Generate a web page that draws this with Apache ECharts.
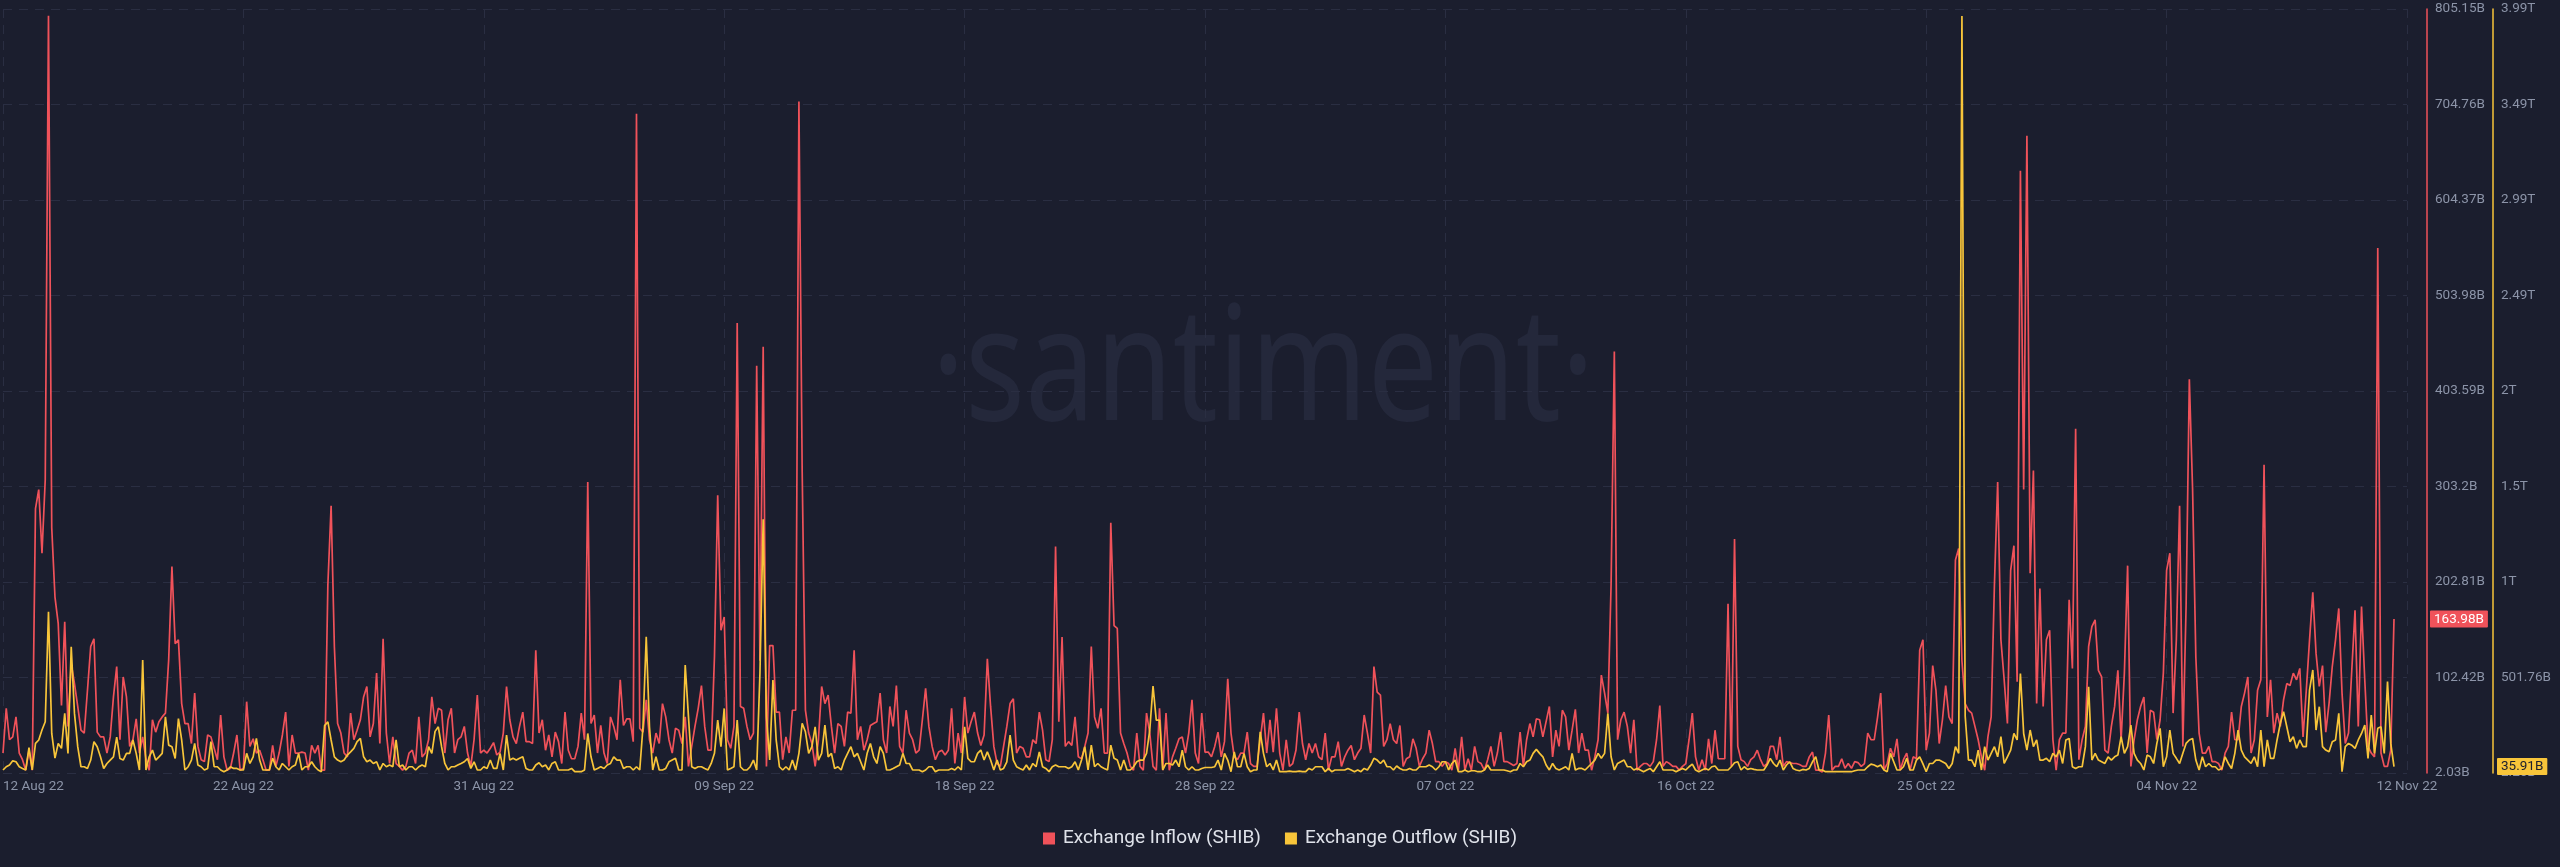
<!DOCTYPE html>
<html><head><meta charset="utf-8">
<script src="https://cdn.jsdelivr.net/npm/echarts@6/dist/echarts.min.js"></script>
<style>html,body{margin:0;padding:0;background:#1b1e2e;}#c{width:2560px;height:867px;}</style>
</head><body><div id="c"></div>
<script>
// ---- data (3-hourly samples) ----
const startTimeUTC = Date.UTC(2022, 7, 12, 22); // first sample
const stepHours = 3;
const seriesNames = ['Exchange Inflow (SHIB)', 'Exchange Outflow (SHIB)'];
const monthNames = ['Jan','Feb','Mar','Apr','May','Jun','Jul','Aug','Sep','Oct','Nov','Dec'];
const inflowTicks = { min: 2.03, max: 805.15, interval: 100.39 };     // B
const outflowTicks = { min: 2.26, max: 3998.26, interval: 499.5 };    // B
const xTickDays = 9.25;   // spacing of date labels
const xTickCount = 10;

// Exchange Inflow (SHIB), billions
const inflow = [
23,70,37,40,61,23,16,5,26,5,
280,300,233,310,798,260,187,159,73,161,
51,117,96,72,47,44,89,135,143,45,
40,40,23,40,82,114,37,103,82,30,
37,59,23,40,17,5,58,45,56,61,
65,121,219,138,142,75,54,54,33,86,
30,16,14,42,40,28,16,63,19,5,
7,23,42,5,7,77,30,38,23,26,
16,5,5,31,9,23,42,66,9,42,
23,23,24,23,5,31,23,31,5,5,
200,283,135,54,44,23,19,65,37,47,
58,82,93,40,54,107,33,143,44,12,
40,12,9,5,9,23,26,12,61,19,
23,37,82,54,70,68,23,58,70,23,
37,40,51,23,9,37,84,23,
26,23,28,34,21,24,44,93,58,40,
33,51,66,35,35,33,131,44,58,26,
42,19,45,35,12,66,26,17,17,30,
65,37,308,54,63,23,52,23,12,61,
51,37,100,52,59,59,35,695,49,45,
79,37,23,44,33,75,61,37,23,49,
47,33,61,9,30,51,70,94,51,26,
26,124,294,152,166,37,28,51,475,72,
70,51,37,44,430,120,450,9,136,136,
66,66,16,40,23,68,68,708,320,68,
44,33,9,37,93,75,84,51,23,54,
51,30,66,65,131,37,51,26,37,52,
54,56,86,37,23,72,51,94,30,23,
68,44,37,23,26,58,91,51,30,16,
24,26,21,26,70,12,44,23,
82,44,56,66,44,31,42,122,72,30,
12,9,30,51,75,80,23,30,28,19,
19,37,33,66,47,16,14,37,240,56,
145,30,35,31,61,19,17,30,44,135,
61,49,70,23,23,265,157,154,44,33,
23,9,5,44,9,5,65,44,9,5,
70,5,65,5,19,28,38,40,23,44,
79,23,12,65,24,24,19,30,45,19,
35,101,44,19,16,23,23,45,12,9,
9,37,65,23,58,24,70,23,5,37,
9,12,26,66,33,16,33,23,33,19,
16,44,5,19,19,35,9,19,26,31,
16,23,28,63,44,23,114,87,84,30,
37,54,37,33,52,9,17,19,38,28,
9,17,23,47,33,14,14,
9,14,12,5,28,5,40,5,17,5,
30,14,12,5,16,30,9,23,45,14,
14,12,10,12,45,9,37,54,40,59,
58,40,56,72,19,47,30,68,61,26,
47,69,23,44,26,26,5,19,37,105,
86,65,200,445,37,58,66,51,23,58,
5,9,12,12,9,14,37,73,9,14,
12,9,9,5,9,12,37,65,19,5,
16,5,38,12,47,17,17,17,180,9,
248,30,16,14,9,16,19,26,16,9,
12,30,30,16,40,9,14,13,12,12,
11,9,9,19,24,5,5,3,23,63,
5,9,9,17,7,12,7,14,13,9,
12,44,37,37,60,86,5,12,28,19,
38,5,16,23,5,19,17,131,
142,26,44,115,89,33,58,94,61,54,
226,238,120,75,68,65,51,37,19,5,
40,61,200,308,142,100,54,215,241,98,
635,300,672,212,320,75,196,72,142,152,
37,5,37,44,44,184,112,364,16,37,
51,135,156,163,110,103,26,23,51,72,
110,37,107,220,9,37,58,72,82,23,
68,66,37,58,107,215,233,65,142,283,
30,177,416,300,124,44,23,23,30,14,
14,12,5,23,30,66,37,37,72,86,
103,23,37,89,100,326,61,100,44,65,
51,79,96,94,107,100,112,40,89,142,
192,128,93,115,45,75,114,142,175,86,
33,44,110,173,51,177,100,30,23,19,
554,23,9,9,26,163.98
];

// Exchange Outflow (SHIB), billions
const outflow = [
18,35,44,66,61,35,26,18,135,18,
157,175,227,270,846,209,80,157,131,314,
105,663,314,140,35,35,26,70,166,140,
87,26,52,70,87,190,78,70,105,105,
175,105,18,593,18,87,122,70,87,105,
296,148,140,78,287,175,18,35,70,157,
44,35,18,26,166,35,35,18,9,18,
35,26,26,18,18,105,52,87,183,70,
18,18,18,80,35,18,52,35,18,35,
44,105,18,35,35,61,35,18,9,250,
270,175,87,70,61,70,96,113,131,166,
183,87,61,70,52,61,18,52,35,44,
35,175,35,44,18,35,35,18,35,44,
35,140,105,220,244,140,52,18,35,35,
44,52,61,78,26,61,18,18,
35,26,70,26,26,105,18,201,70,79,
70,79,87,26,18,18,44,56,35,44,
18,52,61,18,18,18,18,26,9,9,
9,18,209,87,18,26,35,26,44,52,
87,70,70,26,35,35,18,35,18,244,
715,244,18,87,18,18,26,61,70,79,
18,18,567,297,35,26,35,35,26,18,
52,105,279,140,340,18,26,35,279,35,
18,18,35,70,18,523,1330,300,70,488,
175,35,18,35,18,70,18,105,262,218,
105,140,244,70,105,253,87,105,26,35,
18,70,105,140,87,105,61,18,105,157,
87,52,140,105,18,18,26,35,44,105,
52,52,18,18,18,9,18,35,35,9,
18,18,18,18,26,18,35,18,
244,79,61,61,105,122,70,113,70,18,
70,18,26,61,201,70,35,26,18,44,
18,52,35,113,35,26,9,35,44,35,
35,35,26,35,61,18,70,140,18,148,
35,52,35,26,18,148,79,70,18,70,
18,18,35,61,70,70,105,227,457,279,
279,18,52,52,44,70,35,122,35,18,
35,18,18,26,31,31,31,35,70,18,
105,70,9,113,35,35,105,35,9,18,
18,218,105,35,52,18,70,9,9,9,
12,9,9,12,9,9,26,18,35,35,
35,9,26,9,18,18,18,18,26,18,
9,18,9,26,18,44,79,70,52,70,
35,35,18,39,26,18,18,26,18,18,
35,35,35,44,35,18,35,
61,61,18,52,70,9,9,18,9,14,
14,9,9,18,44,18,18,18,18,18,
14,9,18,18,52,35,61,70,105,126,
105,87,44,18,52,26,18,26,35,18,
105,18,26,26,18,35,52,70,105,79,
105,314,87,18,52,61,70,35,35,18,
26,18,9,18,26,9,35,61,18,18,
18,18,9,18,26,18,35,49,18,9,
18,26,18,35,39,18,18,18,18,35,
56,61,18,35,21,26,21,18,18,18,
44,79,52,35,70,18,44,61,26,18,
14,21,18,26,61,87,18,18,9,9,
9,9,9,9,9,9,9,14,18,18,
18,35,49,44,35,44,18,9,105,61,
18,18,35,79,18,18,70,87,
50,9,52,52,70,70,61,52,26,52,
140,105,3961,300,70,70,35,122,18,140,
70,105,140,87,192,52,87,122,209,175,
523,209,122,227,140,175,70,70,79,61,
105,87,122,52,175,183,35,26,35,35,
140,453,70,105,70,61,52,87,70,87,
96,192,105,140,253,105,70,52,18,96,
87,52,157,236,35,87,227,105,79,52,
105,157,175,183,70,18,87,35,52,35,
35,18,26,87,52,26,105,227,122,87,
70,52,87,35,227,35,175,79,79,175,
262,323,244,166,192,131,175,140,140,436,
541,227,349,140,122,113,166,175,314,9,
140,157,148,131,175,209,253,79,305,105,
236,244,105,480,157,35.91
];

// ---- chart ----
const HOUR = 3600 * 1000, DAY = 24 * HOUR;
const times = inflow.map((_, i) => startTimeUTC + i * stepHours * HOUR);
const lastTime = times[times.length - 1];
const xMin = startTimeUTC, xInterval = xTickDays * DAY, xMax = xMin + xTickCount * xInterval;

function fmtDate(v) {
  const d = new Date(Math.min(v, lastTime));
  const dd = String(d.getUTCDate()).padStart(2, '0');
  return dd + ' ' + monthNames[d.getUTCMonth()] + ' ' + String(d.getUTCFullYear()).slice(2);
}
function strip(x) { return String(parseFloat(x.toFixed(2))); }
function fmtVal(v) {
  if (v >= 1000) return strip(Math.floor(v / 1000 * 100 + 1e-6) / 100) + 'T';
  return strip(Math.round(v * 100) / 100) + 'B';
}

const RED = '#f0525a', YEL = '#f8c53a', BG = '#1b1e2e';
const LABEL = '#8c94a8', GRID = '#2a2e42';
const FONT = 'Roboto, "Liberation Sans", sans-serif';

// watermark width fit
const wmFontSize = 160;
const mctx = document.createElement('canvas').getContext('2d');
mctx.font = wmFontSize + 'px "Noto Sans"';
const wmText = '·santiment·';
const wmScale = 663 / mctx.measureText(wmText).width;

const chart = echarts.init(document.getElementById('c'), null, { renderer: 'canvas' });
chart.setOption({
  backgroundColor: BG,
  animation: false,
  graphic: [{
    type: 'text', x: 1263, y: 374, scaleX: wmScale, z: -10, silent: true,
    style: { text: wmText, fill: '#24283b', font: wmFontSize + 'px "Noto Sans"', textAlign: 'center', textVerticalAlign: 'middle' }
  }],
  grid: { left: 0, right: 153, top: 9, bottom: 94, containLabel: false },
  legend: {
    data: seriesNames, top: 824, left: 'center', icon: 'rect', itemWidth: 12, itemHeight: 12, itemGap: 24,
    textStyle: { color: '#dfe2ea', fontSize: 19, fontFamily: FONT, padding: [0, 0, 0, 3] }
  },
  xAxis: {
    type: 'value', min: xMin, max: xMax, interval: xInterval,
    axisLine: { show: false }, axisTick: { show: false },
    axisLabel: { color: LABEL, fontSize: 13.5, fontFamily: FONT, margin: 7, formatter: fmtDate, alignMinLabel: 'left', alignMaxLabel: 'center', showMinLabel: true, showMaxLabel: true },
    splitLine: { show: true, lineStyle: { color: GRID, type: [9, 7], width: 1 } }
  },
  yAxis: [{
    type: 'value', position: 'right', offset: 20,
    min: inflowTicks.min, max: inflowTicks.max, interval: inflowTicks.interval,
    axisLine: { show: true, lineStyle: { color: RED, width: 1.5 } }, axisTick: { show: false },
    axisLabel: { color: LABEL, fontSize: 13.5, fontFamily: FONT, margin: 8, formatter: fmtVal },
    splitLine: { show: true, lineStyle: { color: GRID, type: [9, 7], width: 1 } },
    axisPointer: {
      show: true, type: 'line', status: 'show', value: inflow[inflow.length - 1], triggerTooltip: false,
      lineStyle: { opacity: 0 },
      label: { show: true, formatter: p => fmtVal(p.value), backgroundColor: RED, color: '#ffffff', fontSize: 13.5, fontFamily: FONT, padding: [2, 4, 1, 4], margin: 3, borderRadius: 1 }
    }
  }, {
    type: 'value', position: 'right', offset: 86,
    min: outflowTicks.min, max: outflowTicks.max, interval: outflowTicks.interval,
    axisLine: { show: true, lineStyle: { color: YEL, width: 1.5 } }, axisTick: { show: false },
    axisLabel: { color: LABEL, fontSize: 13.5, fontFamily: FONT, margin: 8, formatter: fmtVal },
    splitLine: { show: false },
    axisPointer: {
      show: true, type: 'line', status: 'show', value: outflow[outflow.length - 1], triggerTooltip: false,
      lineStyle: { opacity: 0 },
      label: { show: true, formatter: p => fmtVal(p.value), backgroundColor: YEL, color: '#1b1e2e', fontSize: 13.5, fontFamily: FONT, padding: [2, 4, 1, 4], margin: 4, borderRadius: 1 }
    }
  }],
  series: [{
    name: seriesNames[0], type: 'line', yAxisIndex: 0, showSymbol: false, color: RED,
    lineStyle: { width: 1.7, color: RED }, data: inflow.map((v, i) => [times[i], v]), z: 2
  }, {
    name: seriesNames[1], type: 'line', yAxisIndex: 1, showSymbol: false, color: YEL,
    lineStyle: { width: 1.7, color: YEL }, data: outflow.map((v, i) => [times[i], v]), z: 3
  }]
});
</script></body></html>
